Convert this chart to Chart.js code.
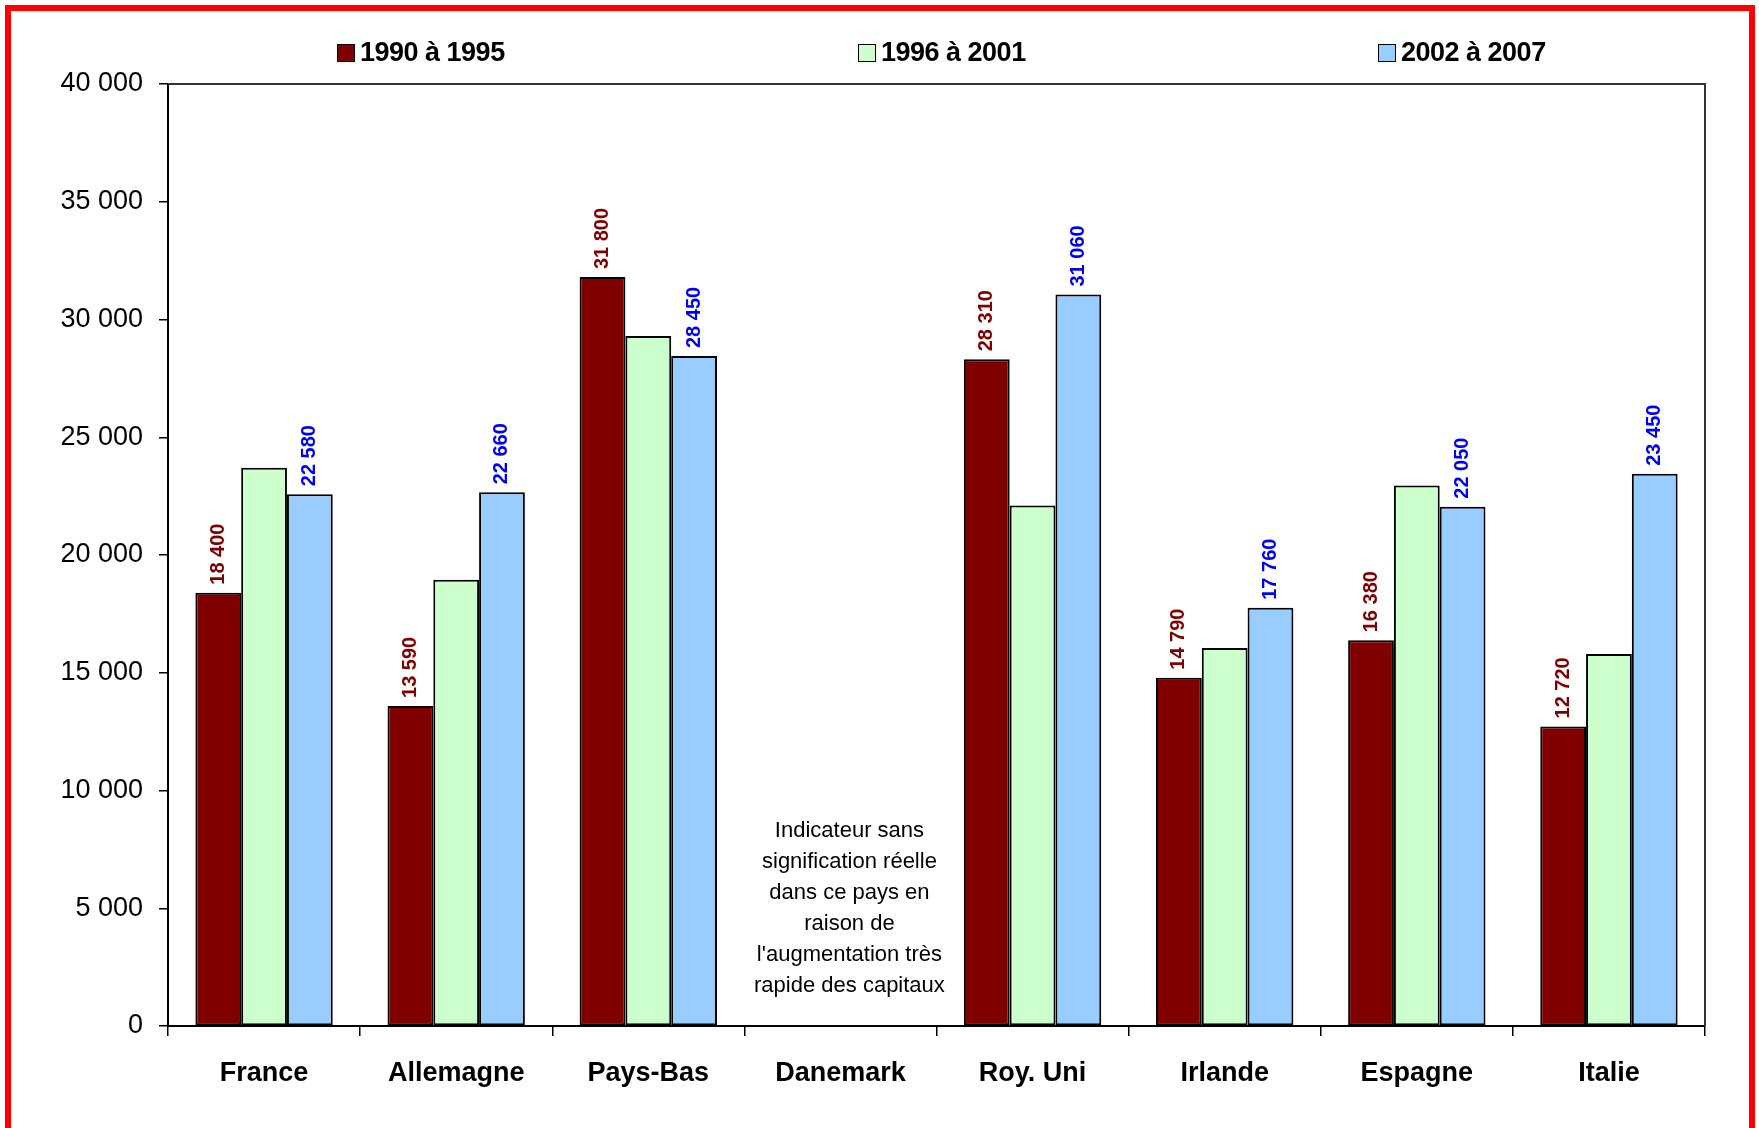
<!DOCTYPE html>
<html>
<head>
<meta charset="utf-8">
<script src="https://cdn.jsdelivr.net/npm/chart.js@4.4.1/dist/chart.umd.min.js"></script>
<style>
    body { margin: 0; background: #fff; overflow: hidden; }
    #wrap { position: relative; width: 1759px; height: 1128px; }
    #cadre {
        position: absolute; left: 5px; top: 5px; width: 1738px; height: 1200px;
        border: 6px solid #ff0000; border-bottom: none; pointer-events: none;
    }
    #legende { position: absolute; top: 37px; left: 0; width: 1759px; height: 34px; }
    .item {
        position: absolute; display: flex; align-items: center;
        font: bold 27px "Liberation Sans", Arial, sans-serif; color: #000; letter-spacing: -0.5px;
    }
    .item span.box { width: 16px; height: 16px; border: 1px solid #000; margin-right: 5px; }
</style>
</head>
<body>
<div id="wrap">
    <canvas id="graficoPays" width="1759" height="1128"></canvas>
    <div id="legende"></div>
    <div id="cadre"></div>
</div>
<script>
const pays = ['France', 'Allemagne', 'Pays-Bas', 'Danemark', 'Roy. Uni', 'Irlande', 'Espagne', 'Italie'];
const periodes = ['1990 à 1995', '1996 à 2001', '2002 à 2007'];
const serie1990 = [18400, 13590, 31800, null, 28310, 14790, 16380, 12720];
const serie1996 = [23700, 18950, 29300, null, 22100, 16050, 22950, 15800];
const serie2002 = [22580, 22660, 28450, null, 31060, 17760, 22050, 23450];
const couleurs = ['#800000', '#ccffcc', '#99ccff'];
const couleursLabels = ['#800000', null, '#0000ff']; // pas de label pour la serie du milieu
const noteDanemark = ['Indicateur sans', 'signification réelle', 'dans ce pays en', 'raison de',
    "l'augmentation très", 'rapide des capitaux'];

function formatNombre(v) {
    return String(v).replace(/\B(?=(\d{3})+(?!\d))/g, ' ');
}

// legende en html, les items sont bien espaces
const posLegende = [337, 858, 1378];
periodes.forEach(function (p, i) {
    const el = document.createElement('div');
    el.className = 'item';
    el.style.left = posLegende[i] + 'px';
    el.innerHTML = '<span class="box" style="background:' + couleurs[i] + '"></span>' + p;
    document.getElementById('legende').appendChild(el);
});

const pluginLabels = {
    id: 'labelsVerticaux',
    afterDatasetsDraw(chart) {
        const c = chart.ctx;
        chart.data.datasets.forEach(function (ds, i) {
            if (!couleursLabels[i]) return;
            const meta = chart.getDatasetMeta(i);
            meta.data.forEach(function (bar, j) {
                const v = ds.data[j];
                if (v === null) return;
                c.save();
                c.translate(bar.x, bar.y - 8);
                c.rotate(-Math.PI / 2);
                c.font = 'bold 20px "Liberation Sans", Arial, sans-serif';
                c.fillStyle = couleursLabels[i];
                c.textAlign = 'left';
                c.textBaseline = 'middle';
                c.fillText(formatNombre(v), 0, 0);
                c.restore();
            });
        });
    }
};

const pluginCadre = {
    id: 'cadre',
    afterDraw(chart) {
        const c = chart.ctx;
        const a = chart.chartArea;
        const x = chart.scales.x;
        const y = chart.scales.y;
        c.save();
        c.strokeStyle = '#333';
        c.lineWidth = 2;
        c.beginPath();
        c.moveTo(a.left, a.top);
        c.lineTo(a.right, a.top);
        c.lineTo(a.right, a.bottom);
        c.stroke();

        // note sur le Danemark
        c.font = '22px "Liberation Sans", Arial, sans-serif';
        c.fillStyle = '#000';
        c.textAlign = 'center';
        c.textBaseline = 'middle';
        const cx = x.getPixelForValue(3) + 9;
        let cy = y.getPixelForValue(8300);
        noteDanemark.forEach(function (ligne) {
            c.fillText(ligne, cx, cy);
            cy += 31;
        });
        c.restore();
    }
};

const ctx = document.getElementById('graficoPays').getContext('2d');
const series = [serie1990, serie1996, serie2002];

new Chart(ctx, {
    type: 'bar',
    data: {
        labels: pays,
        datasets: series.map(function (s, i) {
            return {
                label: periodes[i],
                data: s,
                backgroundColor: couleurs[i],
                borderColor: '#000',
                borderWidth: 2,
                borderSkipped: false,
                categoryPercentage: 0.715,
                barPercentage: 1.0
            };
        })
    },
    options: {
        responsive: false,
        animation: false,
        layout: { padding: { top: 84, right: 54, bottom: 0, left: 0 } },
        plugins: {
            legend: { display: false },
            tooltip: { enabled: false }
        },
        scales: {
            x: {
                afterFit: function (scale) { scale.height = 102; },
                grid: {
                    display: true,
                    drawOnChartArea: false,
                    offset: true,
                    tickLength: 10,
                    color: '#000',
                    lineWidth: 1.5
                },
                border: { color: '#000', width: 2 },
                ticks: {
                    color: '#000',
                    padding: 21,
                    font: { family: '"Liberation Sans", Arial, sans-serif', size: 27, weight: 'bold' }
                }
            },
            y: {
                min: 0,
                max: 40000,
                afterFit: function (scale) { scale.width = 168; },
                grid: {
                    drawOnChartArea: false,
                    tickLength: 9,
                    color: '#000',
                    lineWidth: 1.5
                },
                border: { color: '#000', width: 2 },
                ticks: {
                    stepSize: 5000,
                    color: '#000',
                    padding: 16,
                    font: { family: '"Liberation Sans", Arial, sans-serif', size: 27 },
                    callback: function (value) {
                        return formatNombre(value);
                    }
                }
            }
        }
    },
    plugins: [pluginLabels, pluginCadre]
});
</script>
</body>
</html>
